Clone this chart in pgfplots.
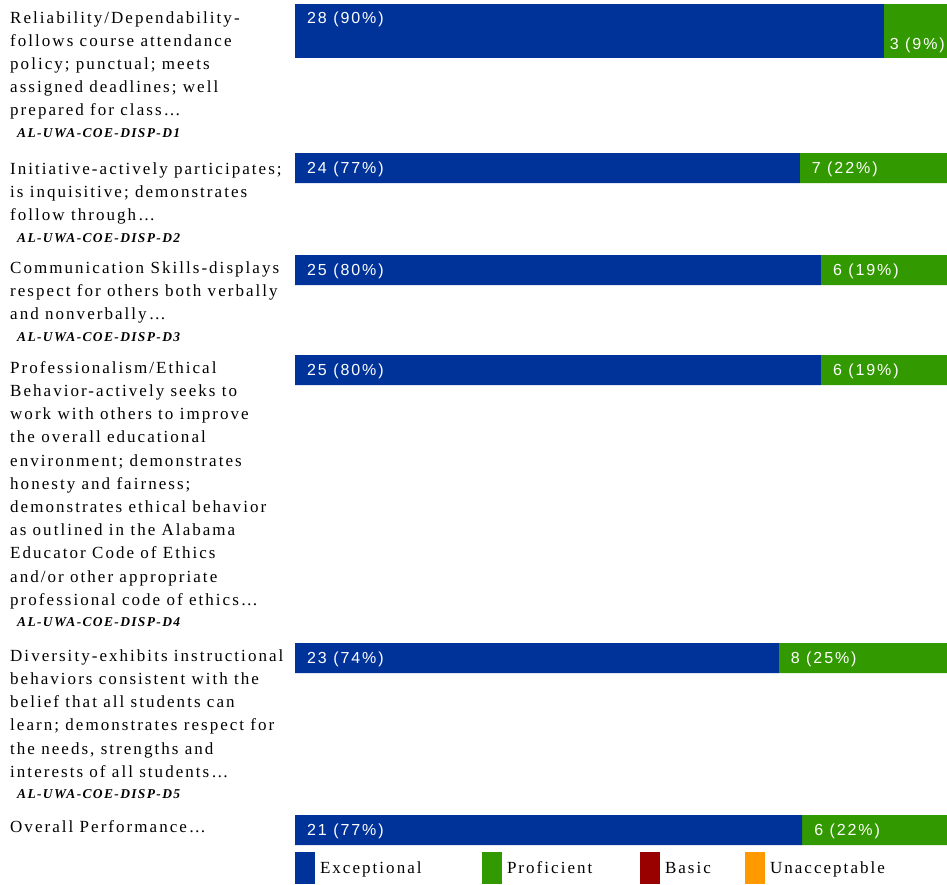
\documentclass[border=0pt]{standalone}
\usepackage{pgfplots}
\pgfplotsset{compat=1.18}
\usepackage{pgfplotstable}
\usepackage{fontspec}
\setmainfont{Liberation Serif}[LetterSpace=12]
\newfontfamily\codefont{Liberation Serif}[LetterSpace=10]
\newfontfamily\lblfont{Liberation Sans}[LetterSpace=12]
\definecolor{exc}{HTML}{003399}
\definecolor{prof}{HTML}{339900}
\definecolor{basic}{HTML}{990000}
\definecolor{unacc}{HTML}{FF9900}

% y = vertical centre of the bar (pixels from the top)
\pgfplotstableread{
y     exc prof basic unacc total
31    28  3    0     0     31
}\firstT
\pgfplotstableread{
y     exc prof basic unacc total
168   24  7    0     0     31
270   25  6    0     0     31
370   25  6    0     0     31
658   23  8    0     0     31
830   21  6    0     0     27
}\mainT

\pgfplotsset{
  base/.style={
    scale only axis, width=947pt, height=884pt,
    at={(0pt,0pt)}, anchor=south west,
    xmin=-45.245, xmax=100, ymin=0, ymax=884, y dir=reverse,
    hide axis, clip=false, xbar stacked,
  },
  sw/.style={legend image code/.code={\fill[#1] (0pt,-16pt) rectangle (20pt,16pt);}},
}
\tikzset{lbl/.style={anchor=west, text=white, inner sep=0pt, font=\lblfont\fontsize{16}{18}\selectfont}}
\newcommand{\codeline}[1]{\\[-1.5pt]{\codefont\bfseries\itshape\fontsize{13.5}{23.3}\selectfont\hspace*{7pt}#1}}
\newcommand{\fl}{\rule{0pt}{16pt}}

\begin{document}
\begin{tikzpicture}
\useasboundingbox (0,0) rectangle (947pt,884pt);
% first (taller) bar
\begin{axis}[base, bar width=54]
\addplot[fill=exc, draw=none] table[x expr=\thisrow{exc}/\thisrow{total}*100, y=y] {\firstT};
\addplot[fill=prof, draw=none] table[x expr=\thisrow{prof}/\thisrow{total}*100, y=y] {\firstT};
\coordinate (a1) at (axis cs:1.84,19);
\coordinate (a2) at (axis cs:{28/31*100+0.9},45);
\end{axis}
% remaining bars + legend
\begin{axis}[base, bar width=30,
  legend columns=4,
  legend style={at={(axis cs:0,852)}, anchor=north west, draw=none, fill=none,
    inner sep=0pt, outer sep=0pt,
    font=\fontsize{17}{18}\selectfont,
    /tikz/every odd column/.append style={column sep=5pt},
    nodes={inner sep=0pt}},
  legend cell align=left,
]
\addplot[fill=exc, draw=none, sw=exc] table[x expr=\thisrow{exc}/\thisrow{total}*100, y=y] {\mainT};
\addlegendentry{\makebox[162pt][l]{\strut Exceptional}}
\addplot[fill=prof, draw=none, sw=prof] table[x expr=\thisrow{prof}/\thisrow{total}*100, y=y] {\mainT};
\addlegendentry{\makebox[133pt][l]{\strut Proficient}}
\addplot[fill=basic, draw=none, sw=basic] table[x expr=\thisrow{basic}/\thisrow{total}*100, y=y] {\mainT};
\addlegendentry{\makebox[80pt][l]{\strut Basic}}
\addplot[fill=unacc, draw=none, sw=unacc] table[x expr=\thisrow{unacc}/\thisrow{total}*100, y=y] {\mainT};
\addlegendentry{\strut Unacceptable}
\coordinate (b1) at (axis cs:1.84,169);
\coordinate (b2) at (axis cs:{24/31*100+1.84},169);
\coordinate (c1) at (axis cs:1.84,271);
\coordinate (c2) at (axis cs:{25/31*100+1.84},271);
\coordinate (d1) at (axis cs:1.84,371);
\coordinate (d2) at (axis cs:{25/31*100+1.84},371);
\coordinate (e1) at (axis cs:1.84,659);
\coordinate (e2) at (axis cs:{23/31*100+1.84},659);
\coordinate (f1) at (axis cs:1.84,831);
\coordinate (f2) at (axis cs:{21/27*100+1.84},831);
\end{axis}
% value labels
\node[lbl] at (a1) {28 (90\%)};
\node[lbl] at (a2) {3 (9\%)};
\node[lbl] at (b1) {24 (77\%)};
\node[lbl] at (b2) {7 (22\%)};
\node[lbl] at (c1) {25 (80\%)};
\node[lbl] at (c2) {6 (19\%)};
\node[lbl] at (d1) {25 (80\%)};
\node[lbl] at (d2) {6 (19\%)};
\node[lbl] at (e1) {23 (74\%)};
\node[lbl] at (e2) {8 (25\%)};
\node[lbl] at (f1) {21 (77\%)};
\node[lbl] at (f2) {6 (22\%)};
% category texts (y = first baseline, in pixels from top)
\begin{scope}[every node/.style={anchor=north west, align=left, inner sep=0pt, font=\fontsize{17}{23.2}\selectfont}]
\node at (10pt,{(884-23+16)*1pt}) {\fl Reliability/Dependability-\\follows course attendance\\policy; punctual; meets\\assigned deadlines; well\\prepared for class\dots\codeline{AL-UWA-COE-DISP-D1}};
\node at (10pt,{(884-174+16)*1pt}) {\fl Initiative-actively participates;\\is inquisitive; demonstrates\\follow through\dots\codeline{AL-UWA-COE-DISP-D2}};
\node at (10pt,{(884-273+16)*1pt}) {\fl Communication Skills-displays\\respect for others both verbally\\and nonverbally\dots\codeline{AL-UWA-COE-DISP-D3}};
\node at (10pt,{(884-373+16)*1pt}) {\fl Professionalism/Ethical\\Behavior-actively seeks to\\work with others to improve\\the overall educational\\environment; demonstrates\\honesty and fairness;\\demonstrates ethical behavior\\as outlined in the Alabama\\Educator Code of Ethics\\and/or other appropriate\\professional code of ethics\dots\codeline{AL-UWA-COE-DISP-D4}};
\node at (10pt,{(884-661+16)*1pt}) {\fl Diversity-exhibits instructional\\behaviors consistent with the\\belief that all students can\\learn; demonstrates respect for\\the needs, strengths and\\interests of all students\dots\codeline{AL-UWA-COE-DISP-D5}};
\node at (10pt,{(884-832+16)*1pt}) {\fl Overall Performance\dots};
\end{scope}
\end{tikzpicture}
\end{document}
